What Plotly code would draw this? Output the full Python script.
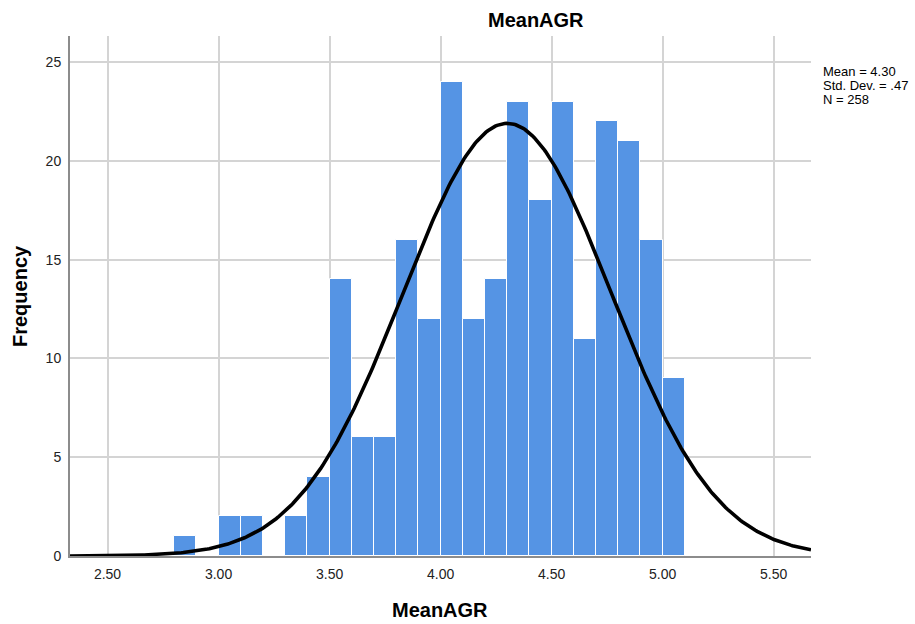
import plotly.graph_objects as go
import numpy as np

# Histogram of MeanAGR: bin edges (width 0.10) and frequencies
bin_left = [2.8, 2.9, 3.0, 3.1, 3.2, 3.3, 3.4, 3.5, 3.6, 3.7, 3.8, 3.9,
            4.0, 4.1, 4.2, 4.3, 4.4, 4.5, 4.6, 4.7, 4.8, 4.9, 5.0]
counts = [1, 0, 2, 2, 0, 2, 4, 14, 6, 6, 16, 12,
          24, 12, 14, 23, 18, 23, 11, 22, 21, 16, 9]
bin_width = 0.1

# Summary statistics shown beside the chart
mean_val = 4.30
sd_val = 0.47
n_val = 258

x_ticks = [2.5, 3.0, 3.5, 4.0, 4.5, 5.0, 5.5]
x_tick_text = ["2.50", "3.00", "3.50", "4.00", "4.50", "5.00", "5.50"]
y_ticks = [0, 5, 10, 15, 20, 25]

x_range = [2.331, 5.668]
y_range = [0, 26.32]

FONT = "Liberation Sans, Arial, sans-serif"

centers = [b + bin_width / 2 for b in bin_left]

fig = go.Figure()
fig.add_trace(go.Bar(
    x=centers, y=counts, width=bin_width,
    marker=dict(color="#5594E4", line=dict(color="#FFFFFF", width=1)),
    hoverinfo="skip", showlegend=False,
))

# Fitted normal curve scaled to counts per bin
xs = np.linspace(x_range[0], x_range[1], 400)
ys = n_val * bin_width / (sd_val * np.sqrt(2 * np.pi)) * np.exp(-0.5 * ((xs - mean_val) / sd_val) ** 2)
fig.add_trace(go.Scatter(
    x=xs, y=ys, mode="lines",
    line=dict(color="#000000", width=3.6),
    hoverinfo="skip", showlegend=False,
))

L, R, T, B = 70, 104, 36, 68
W, H = 915, 624
plot_h = H - T - B

def py(pix):
    # convert a pixel row of the page to paper coordinates
    return (H - B - pix) / plot_h

def px(pix):
    return (pix - L) / (W - L - R)

annotations = [
    dict(text="<b>MeanAGR</b>", x=px(536), y=py(20), xref="paper", yref="paper",
         showarrow=False, xanchor="center", yanchor="middle",
         font=dict(family=FONT, size=20, color="#000000")),
    dict(text="<b>MeanAGR</b>", x=px(440), y=py(610), xref="paper", yref="paper",
         showarrow=False, xanchor="center", yanchor="middle",
         font=dict(family=FONT, size=20, color="#000000")),
    dict(text="<b>Frequency</b>", x=px(20), y=py(296), xref="paper", yref="paper",
         showarrow=False, xanchor="center", yanchor="middle", textangle=-90,
         font=dict(family=FONT, size=20, color="#000000")),
]
stats_lines = [f"Mean = {mean_val:.2f}", f"Std. Dev. = {str(sd_val)[1:]}", f"N = {n_val}"]
for i, line in enumerate(stats_lines):
    annotations.append(dict(
        text=line, x=px(821), y=py(71 + 14.3 * i), xref="paper", yref="paper",
        showarrow=False, xanchor="left", yanchor="middle",
        font=dict(family=FONT, size=13, color="#000000")))

fig.update_layout(
    width=W, height=H,
    margin=dict(l=L, r=R, t=T, b=B, pad=0),
    paper_bgcolor="#FFFFFF", plot_bgcolor="#FFFFFF",
    bargap=0,
    font=dict(family=FONT, size=14, color="#222222"),
    annotations=annotations,
    xaxis=dict(
        range=x_range, tickvals=x_ticks, ticktext=x_tick_text,
        showgrid=True, gridcolor="#D4D4D4", gridwidth=1.5,
        showline=True, linecolor="#8C8C8C", linewidth=2,
        ticks="", zeroline=False, ticklabelstandoff=4,
        tickfont=dict(family=FONT, size=14, color="#222222"),
    ),
    yaxis=dict(
        range=y_range, tickvals=y_ticks,
        showgrid=True, gridcolor="#D4D4D4", gridwidth=1.5,
        showline=True, linecolor="#8C8C8C", linewidth=2,
        ticks="", zeroline=False, ticklabelstandoff=4,
        tickfont=dict(family=FONT, size=14, color="#222222"),
    ),
)

fig.write_html("out.html")
